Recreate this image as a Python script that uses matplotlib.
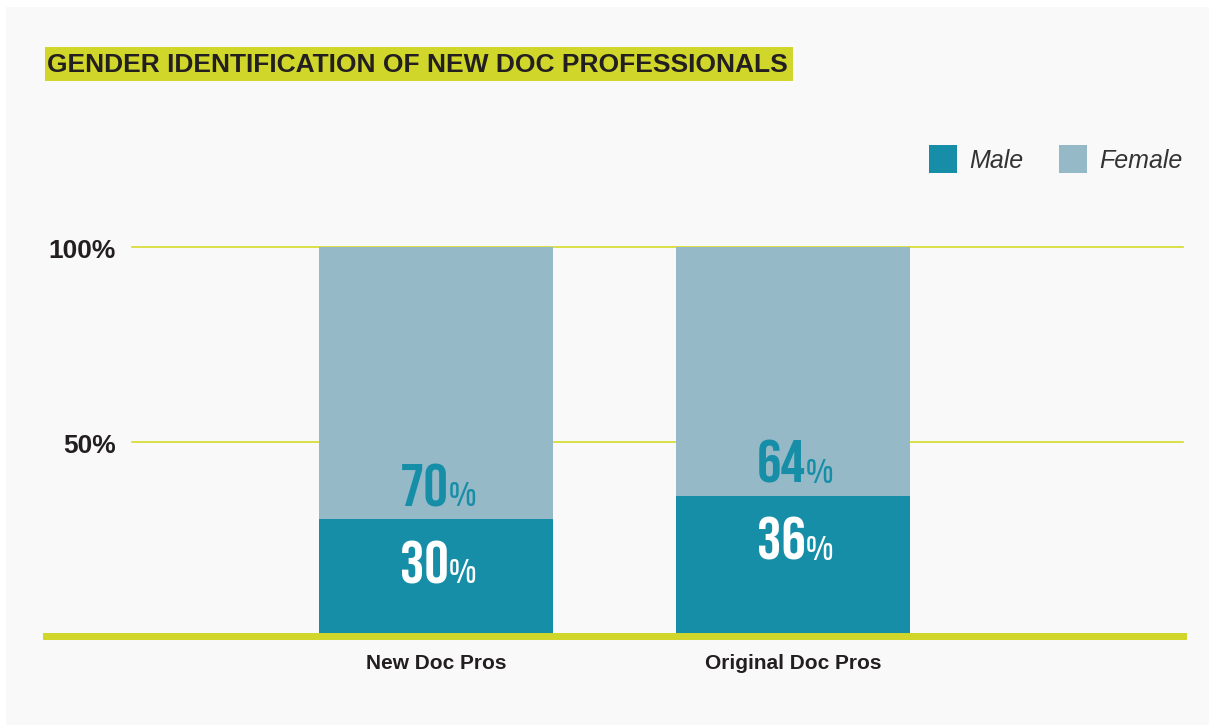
import matplotlib
matplotlib.use("Agg")
import matplotlib.pyplot as plt
from matplotlib.patches import Rectangle
import numpy as np

categories = ["New Doc Pros", "Original Doc Pros"]
male = [30, 36]
female = [70, 64]
series_names = ["Male", "Female"]
ytick_vals = [50, 100]
ytick_labels = ["50%", "100%"]
title = "GENDER IDENTIFICATION OF NEW DOC PROFESSIONALS"

C_MALE = "#178ea8"
C_FEMALE = "#96b9c8"
C_LIME = "#d0d62a"
C_BG = "#f9f9f9"
C_TEXT = "#231f20"

W, H = 1209, 725
fig = plt.figure(figsize=(W / 100, H / 100), dpi=100)
fig.patch.set_facecolor("white")
fig.patches.append(Rectangle((6 / W, 0), 1 - 6 / W, 1 - 7 / H, transform=fig.transFigure,
                             facecolor=C_BG, edgecolor="none", zorder=-5))

def fx(px):
    return px / W

def fy(py):
    return 1 - py / H

ax_l, ax_r = 46, 1183
ax_top, ax_bot = 247, 636
ax = fig.add_axes([fx(ax_l), fy(ax_bot), fx(ax_r) - fx(ax_l), fy(ax_top) - fy(ax_bot)])
ax.set_facecolor("none")
ax.set_xlim(-1.092, 2.092)
ax.set_ylim(0, 100)
for s in ax.spines.values():
    s.set_visible(False)
ax.set_yticks([])
ax.set_xticks([])

x = np.arange(len(categories))
bw = 0.655
grid_start = (132 - ax_l) / (ax_r - ax_l)
for v in ytick_vals:
    ax.axhline(v, xmin=grid_start, xmax=1, color="#d6da2a", lw=1.2, zorder=1, clip_on=False)

ax.bar(x, male, bw, color=C_MALE, zorder=2, label=series_names[0])
ax.bar(x, female, bw, bottom=male, color=C_FEMALE, zorder=2, label=series_names[1])
ax.axhline(0, color=C_LIME, lw=5, zorder=3, clip_on=False)

# y labels
for v, lab in zip(ytick_vals, ytick_labels):
    ax.annotate(lab, (fx(116), v), xycoords=("figure fraction", "data"), xytext=(0, -3),
                textcoords="offset points", ha="right", va="center",
                fontsize=19, fontweight="bold", color=C_TEXT, family="Liberation Sans",
                annotation_clip=False)

# x labels
for xi, cat in zip(x, categories):
    ax.annotate(cat, (xi, 0), xytext=(0, -13), textcoords="offset points", ha="center", va="top",
                fontsize=15, fontweight="bold", color=C_TEXT,
                family="Liberation Sans", annotation_clip=False)

numfam = ["Bebas Neue", "Oswald", "DejaVu Sans"]
pctfam = ["Antonio", "Oswald", "DejaVu Sans"]
def pct_label(xi, y, val, color, dy):
    ax.annotate(f"{val}", (xi, y), xytext=(9, dy), textcoords="offset points",
                ha="right", va="baseline", fontsize=44, fontweight="bold", color=color,
                family=numfam, zorder=4)
    ax.annotate("%", (xi, y), xytext=(8.5, dy), textcoords="offset points",
                ha="left", va="baseline", fontsize=20, fontweight="normal", color=color,
                family=pctfam, zorder=4)

for xi, m, f in zip(x, male, female):
    pct_label(xi, m, f, C_MALE, 9.5)
    pct_label(xi, m, m, "white", -46)

# legend
for sx, tx, col, name in [(929, 969, C_MALE, series_names[0]), (1059, 1099, C_FEMALE, series_names[1])]:
    fig.patches.append(Rectangle((fx(sx), fy(173)), 28 / W, 28 / H, transform=fig.transFigure,
                                 facecolor=col, edgecolor="none", zorder=2))
    fig.text(fx(tx), fy(161), name, ha="left", va="center", fontsize=18, style="italic",
             color="#333333", family="Liberation Sans")

# title
fig.patches.append(Rectangle((fx(45), fy(81)), 748 / W, 34 / H, transform=fig.transFigure,
                             facecolor=C_LIME, edgecolor="none", zorder=1))
fig.text(fx(47), fy(65), title, ha="left", va="center", fontsize=19, fontweight="bold",
         color=C_TEXT, family="Liberation Sans", zorder=3)

fig.savefig("out.png", dpi=100, facecolor=fig.get_facecolor())
